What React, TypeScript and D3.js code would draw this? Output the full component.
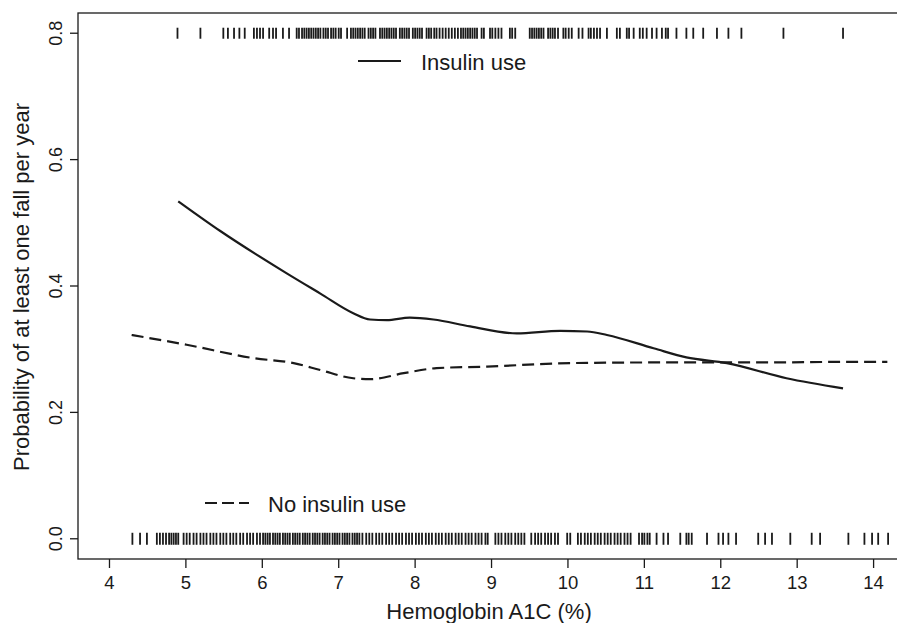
import React from "react";
import * as d3 from "d3";

const xTicks = [4, 5, 6, 7, 8, 9, 10, 11, 12, 13, 14];
const yTicks = [0, 0.2, 0.4, 0.6, 0.8];
const yTickLabels = ["0.0", "0.2", "0.4", "0.6", "0.8"];

const insulinX = [4.9, 5.45, 6.32, 6.76, 7.19, 7.41, 7.63, 7.93, 8.24, 8.72, 9.33, 9.9, 10.25, 10.51, 11.12, 11.55, 12.08, 12.86, 13.6];
const insulinY = [0.534, 0.487, 0.42, 0.388, 0.357, 0.347, 0.346, 0.35, 0.347, 0.336, 0.325, 0.329, 0.328, 0.3225, 0.3015, 0.287, 0.278, 0.254, 0.238];

const noInsulinX = [4.29, 5.01, 5.88, 6.41, 6.76, 7.19, 7.41, 7.85, 8.28, 8.94, 10.03, 11.12, 12.43, 13.82, 14.18];
const noInsulinY = [0.3225, 0.307, 0.286, 0.278, 0.267, 0.254, 0.2525, 0.262, 0.27, 0.2725, 0.278, 0.279, 0.279, 0.28, 0.28];

const insulinRug = [
  4.89, 5.19, 5.49, 5.55, 5.63, 5.7, 5.77, 5.89, 5.93, 5.97, 6.01, 6.09, 6.14, 6.18, 6.27, 6.35, 6.45, 6.48,
  6.52, 6.55, 6.58, 6.61, 6.64, 6.67, 6.7, 6.73, 6.76, 6.8, 6.83, 6.86, 6.9, 6.93, 6.96, 7.0, 7.03,
  7.11, 7.16, 7.19, 7.22, 7.25, 7.28, 7.31, 7.34, 7.39, 7.42, 7.45, 7.48, 7.54, 7.57, 7.6, 7.63, 7.66,
  7.69, 7.72, 7.75, 7.8, 7.83, 7.86, 7.89, 7.92, 7.97, 8.0, 8.03, 8.06, 8.09, 8.15, 8.18, 8.21, 8.25,
  8.28, 8.32, 8.36, 8.4, 8.44, 8.48, 8.52, 8.56, 8.6, 8.63, 8.66, 8.69, 8.72, 8.75, 8.78, 8.81, 8.87,
  8.9, 8.98, 9.01, 9.05, 9.09, 9.13, 9.24, 9.27, 9.31, 9.5, 9.53, 9.56, 9.59, 9.62, 9.65, 9.68, 9.74,
  9.77, 9.8, 9.83, 9.87, 9.94, 9.97, 10.01, 10.05, 10.14, 10.19, 10.27, 10.3, 10.34, 10.38, 10.42,
  10.51, 10.64, 10.68, 10.77, 10.8, 10.86, 10.94, 10.98, 11.03, 11.1, 11.16, 11.23, 11.28, 11.31,
  11.42, 11.55, 11.64, 11.77, 11.95, 12.1, 12.27, 12.82, 13.6,
];

const noInsulinRug = [
  4.3, 4.4, 4.49, 4.62, 4.66, 4.7, 4.74, 4.78, 4.81, 4.84, 4.87, 4.9,
  4.97, 5.01, 5.05, 5.1, 5.14, 5.19, 5.23, 5.27, 5.32, 5.36, 5.4, 5.45, 5.49, 5.53, 5.58, 5.62,
  5.66, 5.71, 5.75, 5.8, 5.84, 5.88, 5.93, 5.97, 6.01, 6.04, 6.07, 6.1, 6.14, 6.17, 6.2, 6.23,
  6.27, 6.3, 6.33, 6.36, 6.4, 6.43, 6.46, 6.49, 6.53, 6.56, 6.59, 6.62, 6.66, 6.69, 6.72, 6.75,
  6.79, 6.82, 6.85, 6.88, 6.92, 6.95, 6.98, 7.01, 7.05, 7.08, 7.11, 7.14, 7.18, 7.21, 7.24, 7.27,
  7.31, 7.36, 7.4, 7.44, 7.49, 7.53, 7.57, 7.62, 7.66, 7.7, 7.75, 7.79, 7.83, 7.88, 7.92, 7.96,
  8.01, 8.05, 8.09, 8.14, 8.18, 8.22, 8.27, 8.31, 8.35, 8.4, 8.44, 8.48, 8.53, 8.57, 8.61, 8.66,
  8.7, 8.74, 8.79, 8.83, 8.87, 8.92, 8.95, 9.05, 9.09, 9.13, 9.18, 9.22, 9.26, 9.31, 9.35, 9.39,
  9.43, 9.52, 9.57, 9.61, 9.65, 9.7, 9.74, 9.78, 9.83, 9.87, 9.99, 10.03, 10.13, 10.17, 10.22,
  10.26, 10.3, 10.35, 10.39, 10.43, 10.48, 10.52, 10.56, 10.61, 10.65, 10.69, 10.74, 10.78, 10.82,
  10.93, 10.97, 11.0, 11.04, 11.07, 11.16, 11.25, 11.31, 11.47, 11.55, 11.58, 11.62, 11.82, 11.97,
  12.03, 12.1, 12.2, 12.49, 12.58, 12.67, 12.91, 13.19, 13.3, 13.67, 13.88, 13.98, 14.06, 14.19,
];

const W = 897;
const H = 623;
const FONT = "'Liberation Sans', Arial, Helvetica, sans-serif";
const INK = "#1a1a1a";

export default function App() {
  const left = 78;
  const top = 13;
  const bottom = 559;
  const x = d3.scaleLinear().domain([3.588, 14.712]).range([left, 928]);
  const y = d3.scaleLinear().domain([-0.032, 0.832]).range([bottom, top]);

  const line = d3
    .line<[number, number]>()
    .x((d) => x(d[0]))
    .y((d) => y(d[1]))
    .curve(d3.curveMonotoneX);

  const insulinPts = insulinX.map((v, i) => [v, insulinY[i]] as [number, number]);
  const noInsulinPts = noInsulinX.map((v, i) => [v, noInsulinY[i]] as [number, number]);

  return (
    <svg
      width={W}
      height={H}
      style={{ position: "absolute", left: 0, top: 0, background: "#fff" }}
      fontFamily={FONT}
    >
      <rect x={0} y={0} width={W} height={H} fill="#fff" />
      <rect x={left} y={top} width={928 - left} height={bottom - top} fill="none" stroke={INK} strokeWidth={1.3} />

      {xTicks.map((t) => (
        <g key={"xt" + t}>
          <line x1={x(t)} x2={x(t)} y1={bottom} y2={bottom + 9} stroke={INK} strokeWidth={1.3} />
          <text x={x(t)} y={589} textAnchor="middle" fontSize={18.5} fill={INK}>
            {t}
          </text>
        </g>
      ))}

      {yTicks.map((t, i) => (
        <g key={"yt" + t}>
          <line x1={left - 8} x2={left} y1={y(t)} y2={y(t)} stroke={INK} strokeWidth={1.3} />
          <text
            transform={`translate(62,${y(t)}) rotate(-90)`}
            textAnchor="middle"
            fontSize={18}
            fill={INK}
          >
            {yTickLabels[i]}
          </text>
        </g>
      ))}

      <text x={489} y={619} textAnchor="middle" fontSize={22} fill={INK}>
        Hemoglobin A1C (%)
      </text>
      <text transform={`translate(29,287) rotate(-90)`} textAnchor="middle" fontSize={22} fill={INK}>
        Probability of at least one fall per year
      </text>

      {insulinRug.map((v, i) => (
        <line key={"ir" + i} x1={x(v)} x2={x(v)} y1={y(0.8) - 5.5} y2={y(0.8) + 5.5} stroke={INK} strokeWidth={1.8} />
      ))}
      {noInsulinRug.map((v, i) => (
        <line key={"nr" + i} x1={x(v)} x2={x(v)} y1={y(0) - 6} y2={y(0) + 6} stroke={INK} strokeWidth={1.8} />
      ))}

      <path d={line(insulinPts) || ""} fill="none" stroke={INK} strokeWidth={2.2} />
      <path d={line(noInsulinPts) || ""} fill="none" stroke={INK} strokeWidth={2.2} strokeDasharray="12,6" />

      <line x1={358} x2={401} y1={61} y2={61} stroke={INK} strokeWidth={2.2} />
      <text x={421} y={70} fontSize={22} fill={INK}>
        Insulin use
      </text>
      <line x1={205} x2={249} y1={503} y2={503} stroke={INK} strokeWidth={2.2} strokeDasharray="12,5" />
      <text x={268} y={511.5} fontSize={22} fill={INK}>
        No insulin use
      </text>
    </svg>
  );
}
